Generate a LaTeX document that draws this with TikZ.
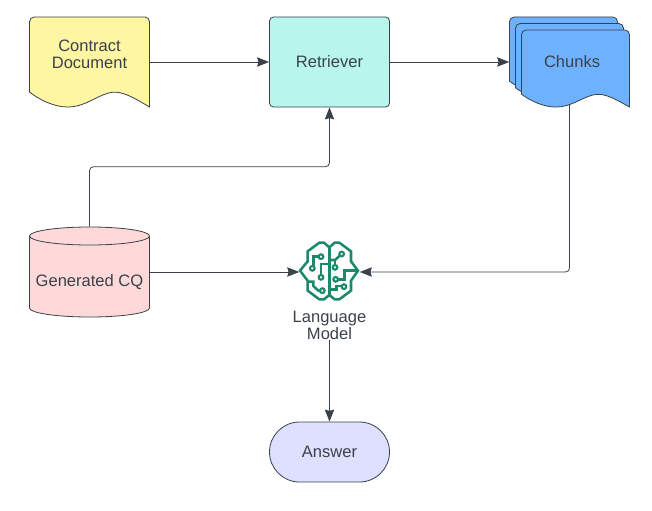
\documentclass[tikz,border=0pt]{standalone}
\usepackage{fontspec}
\setmainfont{Liberation Sans}
\usetikzlibrary{arrows.meta}
\definecolor{inkgray}{HTML}{3A414A}
\definecolor{docyellow}{HTML}{FFF6A3}
\definecolor{retmint}{HTML}{B8F5ED}
\definecolor{chunkblue}{HTML}{6DB1FF}
\definecolor{cqpink}{HTML}{FFD9D9}
\definecolor{ansblue}{HTML}{DFDFFF}
\definecolor{braingreen}{HTML}{1B8A6B}
\tikzset{
  blank/.style={minimum width=90pt, minimum height=67.5pt, inner sep=0pt},
  words/.style={text=inkgray, font=\fontsize{12.4}{12.6}\selectfont, align=center, inner sep=0pt},
  outline/.style={draw=inkgray, line width=0.6pt},
  link/.style={draw=inkgray, line width=0.6pt, rounded corners=3pt, -{Stealth[length=9pt,width=7pt,inset=1pt]}},
  wire/.style={draw=braingreen, line width=1.9pt, line join=miter},
  dot/.style={draw=braingreen, line width=1.6pt, fill=white},
  smallsheet/.style={xscale=.9, yscale=.856},
}
% one wavy sheet, from its top left corner
\newcommand{\docsheet}[4][]{
\draw [outline, fill=#4, shift={(#2,#3)}, #1] (0,75) [rounded corners=3.5pt] -- (0,0) -- (120,0) [sharp corners] -- (120,90)
  .. controls (100,78) and (90,73) .. (79,76) .. controls (65,80) and (55,90) .. (38,90)
  .. controls (25,90) and (10,83) .. (0,75) -- cycle;
}
\begin{document}
\begin{tikzpicture}[x=.75pt, y=-.75pt]
\useasboundingbox (0,0) rectangle (652,510);

% shapes first, words on top
\docsheet{29.5}{17}{docyellow}
\docsheet[smallsheet]{509.5}{17}{chunkblue}
\docsheet[smallsheet]{515.5}{23.5}{chunkblue}
\docsheet[smallsheet]{521.5}{30}{chunkblue}
\draw [outline, fill=cqpink] (29.5,236) -- (29.5,308) arc[start angle=180, end angle=0, x radius=60, y radius=9]
  -- (149.5,236) arc[start angle=0, end angle=-180, x radius=60, y radius=9] -- cycle;
\draw [outline] (29.5,236) arc[start angle=180, end angle=0, x radius=60, y radius=9];

\node (contract) [blank] at (89.5,62) {};
\node (contracttext) [words, yshift=5.7pt] at (contract) {Contract\\Document};
\node (retriever) [blank, outline, fill=retmint, rounded corners=3pt, right of=contract, node distance=180pt, words] {Retriever};
\node (chunks) [blank, minimum height=63pt, words, right of=retriever, node distance=180pt] {\hspace{3.8pt}Chunks};
\node (cq) [blank, below of=contract, node distance=157.5pt] {};
\node (cqtext) [words, yshift=-7.2pt] at (cq) {Generated CQ};
\node (model) [minimum width=45pt, minimum height=44pt, inner sep=0pt, right of=cq, node distance=180pt] {};
\node (modeltext) [words, below of=model, node distance=40.3pt] {Language\\Model};
\node (answer) [blank, minimum height=45pt, outline, fill=ansblue, rounded corners=22.5pt, words, below of=model, node distance=135pt] {Answer};

% brain
\begin{scope}[shift={(285,230)}, x=.25pt, y=-.25pt]
\draw [wire] (133,52) -- (117,38) -- (103,38) -- (68,64) -- (68,94) -- (45,122) -- (68,152) -- (68,182) -- (103,208) -- (117,208) -- (133,195) -- (149,208) -- (163,208) -- (198,182) -- (198,152) -- (219,122) -- (198,94) -- (198,64) -- (163,38) -- (149,38) -- cycle;
\draw [wire] (133,52) -- (133,195);
\draw [wire] (108,80) -- (85,80) -- (85,108);
\draw [wire] (133,102) -- (108,102) -- (108,135);
\draw [wire] (68,155) -- (85,155) -- (85,168) -- (100,182) -- (108,182);
\draw [wire] (170,72) -- (150,90) -- (133,90);
\draw [wire] (150,90) -- (150,105);
\draw [wire] (216,122) -- (178,122) -- (178,148) -- (158,148);
\draw [wire] (133,178) -- (155,178) -- (155,168) -- (170,168);
\foreach \cx/\cy in {108/80, 82/115, 108/142, 112/182, 170/72, 150/112, 152/148, 177/170}
  \draw [dot] (\cx,\cy) circle (7);
\end{scope}

\draw [link] (contract) -- (retriever);
\draw [link] (retriever) -- (chunks);
\draw [link] (cq.north) -- ++(0,-60) -| (retriever.south);
\draw [link] (cq) -- (model);
\draw [link] (chunks.south) |- (model);
\draw [link, rounded corners=0pt] (modeltext.south) -- (answer.north);
\end{tikzpicture}
\end{document}
